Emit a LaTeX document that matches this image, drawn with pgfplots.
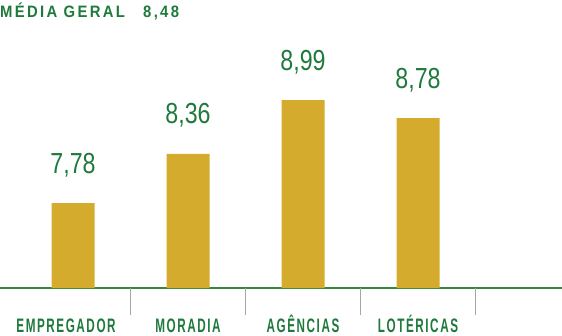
\documentclass[border=0pt]{standalone}
\usepackage{pgfplots}
\pgfplotsset{compat=1.18}
\usepackage{fontspec}
\setmainfont{Liberation Sans}
\newfontfamily\valfont{Liberation Sans}[FakeStretch=0.8]
\newfontfamily\catfont{Liberation Sans Bold}[FakeStretch=0.6,LetterSpace=8]
\newfontfamily\titfont{Liberation Sans Bold}[FakeStretch=0.9,LetterSpace=14]
\definecolor{cgreen}{HTML}{1E7A3C}
\definecolor{lgreen}{HTML}{2E8B3A}
\definecolor{cgold}{HTML}{D4AB2C}
\begin{document}
\begin{tikzpicture}
\path[use as bounding box] (0,0) rectangle (562pt,335pt);
\node[anchor=base west, inner sep=0pt, text=cgreen] at (0pt,317.5pt)
  {\titfont\fontsize{16.5}{16.5}\selectfont MÉDIA GERAL};
\node[anchor=base west, inner sep=0pt, text=cgreen] at (143pt,317.5pt)
  {\titfont\fontsize{16.5}{16.5}\selectfont 8,48};
\begin{axis}[
  at={(0pt,47pt)}, anchor=south west, scale only axis,
  width=562pt, height=288pt,
  xmin=-0.635, xmax=4.252, ymin=6.78, ymax=10.17,
  axis y line=none, axis x line=bottom,
  x axis line style={lgreen, line width=2pt, -},
  clip=false,
  xtick={0,1,2,3},
  xticklabels={\hspace*{-14pt}EMPREGADOR,MORADIA,AGÊNCIAS,LOTÉRICAS},
  major tick length=0pt,
  xticklabel style={anchor=base, inner sep=0pt, yshift=-44pt, text=cgreen, font=\catfont\fontsize{19.5}{19.5}\selectfont},
  extra x ticks={0.5,1.5,2.5,3.5},
  extra x tick labels={},
  extra x tick style={major tick length=27pt, xtick align=outside, tick style={draw=black!35, line width=0.9pt}},
  ybar, bar width=43pt, bar shift=0pt,
  point meta=explicit symbolic,
  nodes near coords,
  every node near coord/.append style={anchor=base, inner sep=0pt, yshift=30pt, text=cgreen, font=\valfont\fontsize{29}{29}\selectfont},
]
\addplot[fill=cgold, draw=none] coordinates {
  (0,7.78) [7,78]
  (1,8.36) [8,36]
  (2,8.99) [8,99]
  (3,8.78) [8,78]
};
\end{axis}
\end{tikzpicture}
\end{document}
